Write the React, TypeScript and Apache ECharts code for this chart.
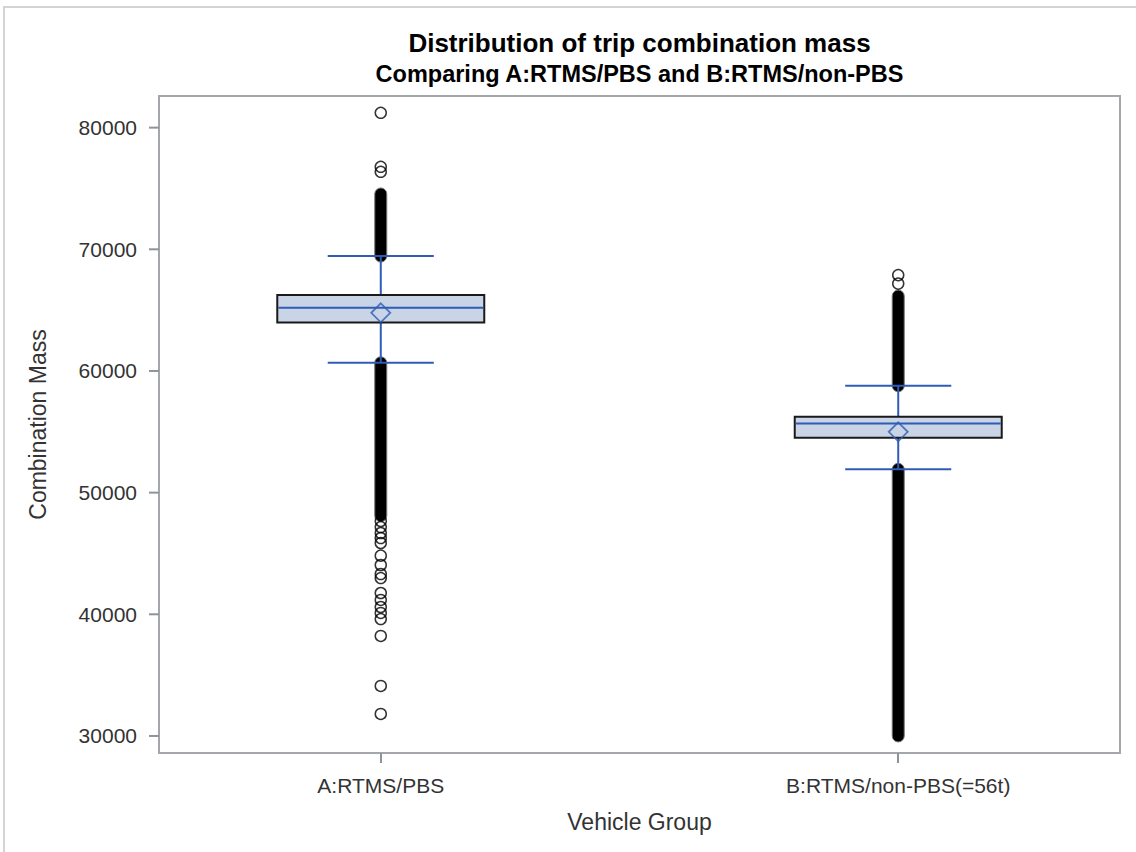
import React, { useEffect, useRef } from "react";
import * as echarts from "echarts";

// ---- data ----
const categories = ["A:RTMS/PBS", "B:RTMS/non-PBS(=56t)"];
const q1 = [63990, 54510];
const median = [65190, 55690];
const q3 = [66240, 56240];
const whiskerLow = [60670, 51920];
const whiskerHigh = [69440, 58780];
const meanValues = [64780, 55000];
const outliersA = [
  81220, 76780, 76370, 47670, 47170, 46680, 46270, 45860, 44820, 44050, 43310,
  42980, 41750, 41180, 40600, 40110, 39610, 38220, 34110, 31810,
];
const outliersB = [67880, 67180];
// runs of outliers so dense that their circles merge into a solid column: [from, to]
const denseA = [
  [69440, 74550],
  [48100, 60670],
];
const denseB = [
  [58780, 66160],
  [30000, 51920],
];
const yTicks = [30000, 40000, 50000, 60000, 70000, 80000];

const FONT = "'Liberation Sans', Arial, sans-serif";
const BLUE = "#2f5cb6";
const BOX_FILL = "#c9d4e6";
const FRAME = "#a3a7ab";
const TICK = "#909498";
const BOX_W = 0.4;
const CAP_W = 0.205;
const X_MIN = -3 / 7;
const X_MAX = 1 + 3 / 7;
const GRID_LEFT = 159;

export default function App() {
  const ref = useRef<HTMLDivElement>(null);

  useEffect(() => {
    if (!ref.current) return;
    const chart = echarts.init(ref.current, null, { renderer: "svg" });

    const boxData = categories.map((_, i) => [
      i,
      q1[i],
      median[i],
      q3[i],
      whiskerLow[i],
      whiskerHigh[i],
    ]);
    const denseData = [
      ...denseA.map((r) => [0, r[0], r[1]]),
      ...denseB.map((r) => [1, r[0], r[1]]),
    ];
    const outlierData = [
      ...outliersA.map((v) => [0, v]),
      ...outliersB.map((v) => [1, v]),
    ];
    const meanData = meanValues.map((v, i) => [i, v]);

    const option: any = {
      animation: false,
      backgroundColor: "#ffffff",
      textStyle: { fontFamily: FONT },
      grid: {
        left: GRID_LEFT,
        right: 16,
        top: 96,
        bottom: 99,
        show: true,
        borderColor: FRAME,
        borderWidth: 2,
        backgroundColor: "transparent",
      },
      graphic: [
        {
          type: "rect",
          z: -10,
          silent: true,
          shape: { x: 4, y: 7, width: 1300, height: 1000 },
          style: { fill: "transparent", stroke: "#d4d4d4", lineWidth: 2 },
        },
        {
          type: "text",
          x: 639.5,
          y: 43,
          style: {
            text: "Distribution of trip combination mass",
            fontSize: 26,
            fontWeight: "bold",
            fontFamily: FONT,
            fill: "#000",
            align: "center",
            verticalAlign: "middle",
          },
        },
        {
          type: "text",
          x: 639.5,
          y: 74,
          style: {
            text: "Comparing A:RTMS/PBS and B:RTMS/non-PBS",
            fontSize: 23.5,
            fontWeight: "bold",
            fontFamily: FONT,
            fill: "#000",
            align: "center",
            verticalAlign: "middle",
          },
        },
      ],
      xAxis: {
        type: "value",
        position: "bottom",
        min: X_MIN,
        max: X_MAX,
        name: "Vehicle Group",
        nameLocation: "middle",
        nameGap: 57,
        nameTextStyle: { fontSize: 23, color: "#333", fontFamily: FONT },
        axisLine: { show: true, onZero: false, lineStyle: { color: FRAME, width: 2 } },
        splitLine: { show: false },
        axisTick: {
          show: true,
          length: 10,
          customValues: [0, 1],
          lineStyle: { color: TICK, width: 2 },
        },
        axisLabel: {
          customValues: [0, 1],
          formatter: (v: number) => categories[Math.round(v)] ?? "",
          fontSize: 21,
          color: "#333",
          margin: 22,
          fontFamily: FONT,
        },
      },
      yAxis: {
        type: "value",
        position: "left",
        min: 28600,
        max: 82600,
        name: "Combination Mass",
        nameLocation: "middle",
        nameGap: 110,
        nameTextStyle: { fontSize: 23, color: "#333", fontFamily: FONT },
        axisLine: { show: true, onZero: false, lineStyle: { color: FRAME, width: 2 } },
        splitLine: { show: false },
        axisTick: { show: false },
        axisLabel: {
          customValues: yTicks,
          // the tick mark is drawn as a small box at the end of each label
          formatter: (v: number) => `{v|${v}}{gap|}{t|}`,
          margin: 0,
          align: "right",
          verticalAlign: "middle",
          rich: {
            v: {
              fontSize: 21,
              color: "#333",
              fontFamily: FONT,
              verticalAlign: "middle",
            },
            gap: { width: 12, height: 2 },
            t: {
              width: 10,
              height: 2,
              backgroundColor: TICK,
              verticalAlign: "middle",
            },
          },
        },
      },
      series: [
        {
          type: "custom",
          name: "dense",
          z: 2,
          data: denseData,
          encode: { x: 0, y: [1, 2] },
          renderItem: (params: any, api: any) => {
            const x = api.value(0);
            const lo = api.coord([x, api.value(1)]);
            const hi = api.coord([x, api.value(2)]);
            const w = 12;
            return {
              type: "rect",
              shape: {
                x: lo[0] - w / 2,
                y: hi[1] - w / 2,
                width: w,
                height: lo[1] - hi[1] + w,
                r: w / 2,
              },
              style: { fill: "#000", stroke: "#777", lineWidth: 1 },
            };
          },
        },
        {
          type: "scatter",
          name: "outliers",
          z: 3,
          data: outlierData,
          symbol: "circle",
          symbolSize: 11,
          itemStyle: {
            color: "rgba(255,255,255,0)",
            borderColor: "#000",
            borderWidth: 1.5,
          },
        },
        {
          type: "custom",
          name: "box",
          z: 4,
          data: boxData,
          encode: { x: 0, y: [1, 2, 3, 4, 5] },
          renderItem: (params: any, api: any) => {
            const x = api.value(0);
            const pQ1 = api.coord([x, api.value(1)]);
            const pMed = api.coord([x, api.value(2)]);
            const pQ3 = api.coord([x, api.value(3)]);
            const pLo = api.coord([x, api.value(4)]);
            const pHi = api.coord([x, api.value(5)]);
            const bw = api.size([BOX_W, 0])[0];
            const cw = api.size([CAP_W, 0])[0];
            const cx = pQ1[0];
            const lineStyle = { stroke: BLUE, lineWidth: 2 };
            return {
              type: "group",
              children: [
                {
                  type: "line",
                  shape: { x1: cx, y1: pQ3[1], x2: cx, y2: pHi[1] },
                  style: lineStyle,
                },
                {
                  type: "line",
                  shape: { x1: cx, y1: pQ1[1], x2: cx, y2: pLo[1] },
                  style: lineStyle,
                },
                {
                  type: "line",
                  shape: { x1: cx - cw / 2, y1: pHi[1], x2: cx + cw / 2, y2: pHi[1] },
                  style: lineStyle,
                },
                {
                  type: "line",
                  shape: { x1: cx - cw / 2, y1: pLo[1], x2: cx + cw / 2, y2: pLo[1] },
                  style: lineStyle,
                },
                {
                  type: "rect",
                  shape: {
                    x: cx - bw / 2,
                    y: pQ3[1],
                    width: bw,
                    height: pQ1[1] - pQ3[1],
                  },
                  style: { fill: BOX_FILL, stroke: "#1a1a1a", lineWidth: 2 },
                },
                {
                  type: "line",
                  shape: { x1: cx - bw / 2 + 1, y1: pMed[1], x2: cx + bw / 2 - 1, y2: pMed[1] },
                  style: lineStyle,
                },
              ],
            };
          },
        },
        {
          type: "scatter",
          name: "mean",
          z: 5,
          data: meanData,
          symbol: "diamond",
          symbolSize: 19,
          itemStyle: {
            color: "rgba(201,212,230,0)",
            borderColor: BLUE,
            borderWidth: 1.8,
          },
        },
      ],
    };

    chart.setOption(option);
    return () => chart.dispose();
  }, []);

  return (
    <div
      ref={ref}
      style={{
        position: "absolute",
        left: 0,
        top: 0,
        width: 1136,
        height: 852,
        background: "#fff",
      }}
    />
  );
}
